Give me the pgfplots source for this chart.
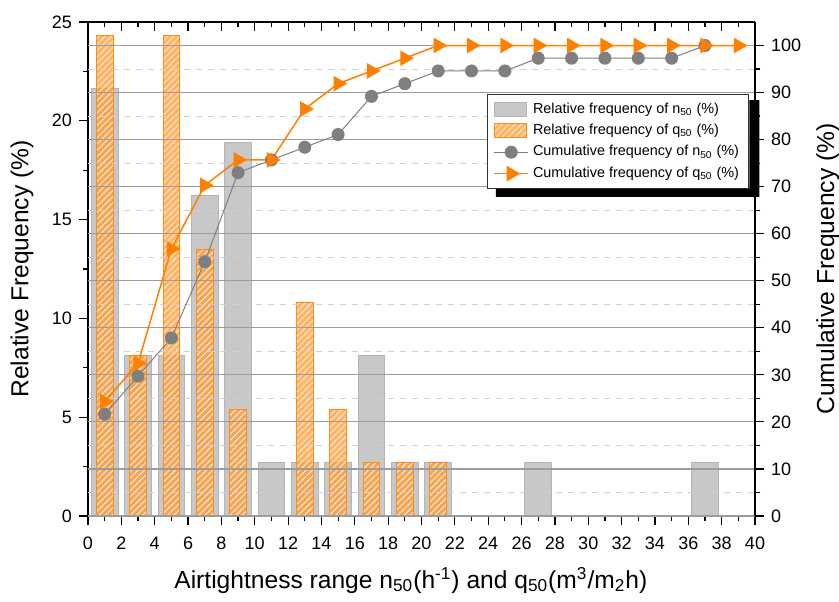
\documentclass[border=0pt]{standalone}
\usepackage{pgfplots}
\pgfplotsset{compat=1.18}
\usepackage{fontspec}
\setmainfont{Liberation Sans}
\usetikzlibrary{patterns.meta,calc}

\definecolor{BarGray}{HTML}{C8C8C8}
\definecolor{BarGrayEdge}{HTML}{B4B4B4}
\definecolor{BarOrange}{HTML}{FF9A33}
\definecolor{BarOrangeEdge}{HTML}{FF8C1A}
\definecolor{Stripe}{HTML}{FFE2BD}
\definecolor{LineGray}{HTML}{7F7F7F}
\definecolor{LineOrange}{HTML}{FF8000}
\definecolor{GridMajor}{HTML}{9C9C9C}
\definecolor{GridMinor}{HTML}{D0D0D0}

\tikzset{
  graybar/.style={fill=BarGray,draw=BarGrayEdge,line width=0.5pt},
  hatchbar/.style={fill=BarOrange,fill opacity=0.75,draw=BarOrangeEdge,line width=0.5pt,
    postaction={pattern={Lines[angle=45,distance=2.2pt,line width=0.6pt]},pattern color=Stripe}},
}

\pgfplotsset{
  barlegend/.style={legend image code/.code={\draw[##1] (0pt,-3.5pt) rectangle (16pt,3.5pt);}},
  every axis/.append style={scale only axis,width=333.5pt,height=247pt,xmin=0,xmax=40,
    axis line style={line width=1pt},
    every tick/.style={black,line width=0.6pt},
    ticklabel style={font=\fontsize{9}{10}\selectfont},
    /pgf/number format/assume math mode=true,
    major tick length=4.5pt,minor tick length=2.5pt,
    label style={font=\fontsize{12.3}{14}\selectfont}},
}

\begin{document}
\begin{tikzpicture}
% left axis: relative frequencies as bars
\begin{axis}[
  axis x line*=bottom, axis y line*=left, tick align=outside,
  ymin=0, ymax=25,
  xtick={0,2,...,40}, minor x tick num=1,
  ytick={0,5,...,25}, minor y tick num=1,
  xticklabel style={yshift=-2.5pt},
  xlabel={Airtightness range n\textsubscript{50}(h\textsuperscript{-1}) and q\textsubscript{50}(m\textsuperscript{3}/m\textsubscript{2}h)},
  ylabel={Relative Frequency (\%)},
  xlabel style={at={(axis description cs:0.484,-0.13)},anchor=center},
  ylabel style={at={(axis description cs:-0.099,0.5)},anchor=center},
]
\addplot[ybar,bar width=1.6,bar shift=0pt,graybar] coordinates {
(1,21.62) (3,8.11) (5,8.11) (7,16.22) (9,18.92) (11,2.70) (13,2.70)
(15,2.70) (17,8.11) (19,2.70) (21,2.70) (27,2.70) (37,2.70)};
\addplot[ybar,bar width=1.0,bar shift=0pt,hatchbar] coordinates {
(1,24.32) (3,8.11) (5,24.32) (7,13.51) (9,5.41) (13,10.81)
(15,5.41) (17,2.70) (19,2.70) (21,2.70)};
\coordinate (SW) at (rel axis cs:0,0);
\coordinate (NE) at (rel axis cs:1,1);
\end{axis}

% right axis: cumulative frequencies
\begin{axis}[
  axis y line*=right, axis x line=none, tick align=outside,
  ymin=0, ymax=105,
  ytick={0,10,...,100}, minor y tick num=1,
  ymajorgrids, yminorgrids,
  major grid style={GridMajor,line width=0.6pt},
  minor grid style={GridMinor,dashed,line width=0.5pt},
  ylabel={Cumulative Frequency (\%)},
  ylabel style={at={(axis description cs:1.109,0.5)},anchor=center},
  legend cell align=left,
  legend style={name=leg,at={(axis description cs:0.598,0.854)},anchor=north west,
    draw=black!80,line width=0.5pt,fill=white,
    font=\fontsize{7.2}{8.6}\selectfont,row sep=0pt,inner xsep=3pt},
]
\addlegendimage{barlegend,graybar}
\addlegendentry{Relative frequency of n\textsubscript{50} (\%)}
\addlegendimage{barlegend,hatchbar}
\addlegendentry{Relative frequency of q\textsubscript{50} (\%)}
\addplot[LineGray,line width=0.5pt,mark=*,mark size=3pt,mark options={fill=LineGray,draw=LineGray}] coordinates {
(1,21.62) (3,29.73) (5,37.84) (7,54.05) (9,72.97) (11,75.68) (13,78.38)
(15,81.08) (17,89.19) (19,91.89) (21,94.59) (23,94.59) (25,94.59) (27,97.30)
(29,97.30) (31,97.30) (33,97.30) (35,97.30) (37,100)};
\addlegendentry{Cumulative frequency of n\textsubscript{50} (\%)}
\addplot[LineOrange,line width=0.75pt,mark=triangle*,mark size=3.8pt,mark options={rotate=-90,fill=LineOrange,draw=LineOrange}] coordinates {
(1,24.32) (3,32.43) (5,56.76) (7,70.27) (9,75.68) (11,75.68) (13,86.49)
(15,91.89) (17,94.59) (19,97.30) (21,100) (23,100) (25,100) (27,100)
(29,100) (31,100) (33,100) (35,100) (37,100) (39,100)};
\addlegendentry{Cumulative frequency of q\textsubscript{50} (\%)}
\end{axis}

% top axis: inward ticks only
\begin{axis}[
  axis x line*=top, axis y line=none, tick align=inside,
  ymin=0, ymax=1,
  xtick={0,2,...,40}, minor x tick num=1, xticklabels={},
]
\end{axis}

% legend drop shadow (the part outside the box)
\fill[black] ($(leg.south west)+(4.5pt,0)$) -- ($(leg.south west)+(4.5pt,-4pt)$)
  -- ($(leg.south east)+(5pt,-4pt)$) -- ($(leg.north east)+(5pt,-3pt)$)
  -- ($(leg.north east)+(0,-3pt)$) -- (leg.south east) -- cycle;

\pgfresetboundingbox
\path[use as bounding box] ([xshift=-44pt,yshift=-43pt]SW) rectangle ([xshift=42pt,yshift=11pt]NE);
\end{tikzpicture}
\end{document}
